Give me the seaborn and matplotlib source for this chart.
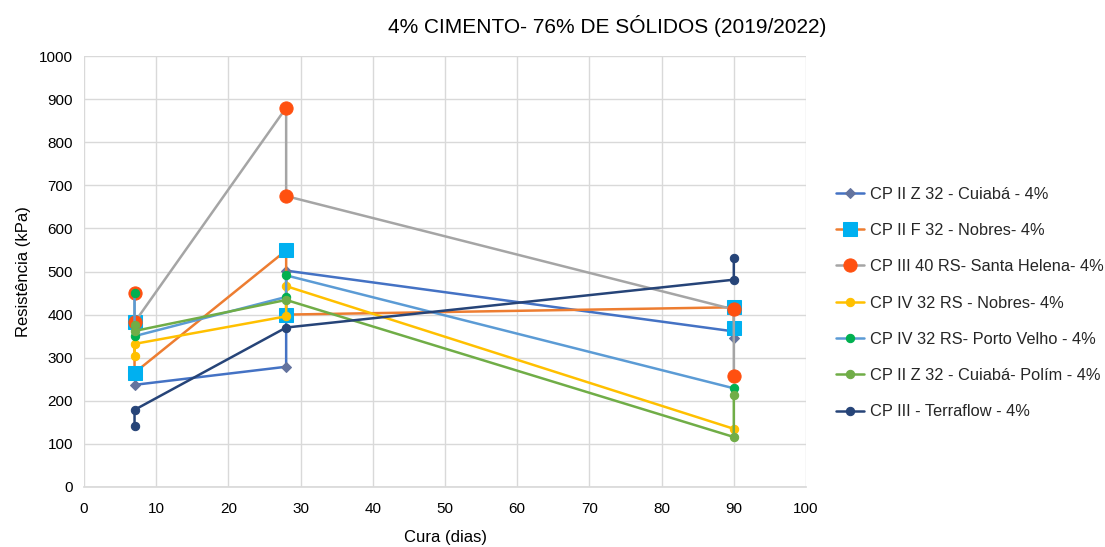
import matplotlib
matplotlib.use("Agg")
import matplotlib.pyplot as plt
import seaborn as sns
import pandas as pd

# Curing ages (days) and strength readings (kPa) for each cement mix, in test order
series_names = [
    "CP II Z 32 - Cuiabá - 4%",
    "CP II F 32 - Nobres- 4%",
    "CP III 40 RS- Santa Helena- 4%",
    "CP IV 32 RS - Nobres- 4%",
    "CP IV 32 RS- Porto Velho - 4%",
    "CP II Z 32 - Cuiabá- Polím - 4%",
    "CP III - Terraflow - 4%",
]

cp2z_dias = [7, 28, 28, 90, 90]
cp2z_kpa = [237, 279, 502, 361, 346]

cp2f_dias = [7, 7, 28, 28, 90, 90]
cp2f_kpa = [383, 265, 549, 400, 417, 368]

cp3_dias = [7, 7, 28, 28, 90, 90]
cp3_kpa = [449, 382, 880, 675, 412, 257]

cp4_nobres_dias = [7, 7, 28, 28, 90]
cp4_nobres_kpa = [304, 332, 396, 466, 135]

cp4_pv_dias = [7, 7, 28, 28, 90]
cp4_pv_kpa = [449, 350, 441, 491, 229]

cp2z_polim_dias = [7, 7, 28, 90, 90]
cp2z_polim_kpa = [377, 362, 434, 116, 214]

terraflow_dias = [7, 7, 28, 90, 90]
terraflow_kpa = [141, 179, 370, 481, 531]

x_ticks = [0, 10, 20, 30, 40, 50, 60, 70, 80, 90, 100]
y_ticks = [0, 100, 200, 300, 400, 500, 600, 700, 800, 900, 1000]

all_dias = [cp2z_dias, cp2f_dias, cp3_dias, cp4_nobres_dias,
            cp4_pv_dias, cp2z_polim_dias, terraflow_dias]
all_kpa = [cp2z_kpa, cp2f_kpa, cp3_kpa, cp4_nobres_kpa,
           cp4_pv_kpa, cp2z_polim_kpa, terraflow_kpa]

# Line colour, marker shape, marker colour, marker size per series
line_colors = ["#4472C4", "#ED7D31", "#A5A5A5", "#FFC000", "#5B9BD5", "#70AD47", "#264478"]
markers = ["D", "s", "o", "o", "o", "o", "o"]
marker_colors = ["#63739E", "#00B0F0", "#FF5010", "#FFC000", "#00B050", "#70AD47", "#264478"]
marker_sizes = [5, 9.5, 9.5, 6, 6, 6, 6]

sns.set_theme(style="whitegrid")
plt.rcParams["font.family"] = ["Liberation Sans", "DejaVu Sans"]

fig = plt.figure(figsize=(11.05, 5.47), dpi=100)
ax = fig.add_axes([84 / 1105, 1 - 487 / 547, (806 - 84) / 1105, (487 - 56) / 547])

for name, dias, kpa, lc, mk, mc, ms in zip(series_names, all_dias, all_kpa,
                                           line_colors, markers, marker_colors, marker_sizes):
    df = pd.DataFrame({"Cura (dias)": dias, "Resistência (kPa)": kpa})
    sns.lineplot(data=df, x="Cura (dias)", y="Resistência (kPa)", ax=ax,
                 sort=False, estimator=None, color=lc, linewidth=1.8,
                 marker=mk, markersize=ms, markerfacecolor=mc,
                 markeredgecolor=mc, label=name)

ax.set_xlim(0, 100)
ax.set_ylim(0, 1000)
ax.set_xticks(x_ticks)
ax.set_yticks(y_ticks)
ax.tick_params(axis="both", labelsize=11, colors="#000000", length=0)
ax.tick_params(axis="x", pad=11)
ax.tick_params(axis="y", pad=8)
ax.grid(True, color="#D9D9D9", linewidth=1)
for side in ["top", "right", "left"]:
    ax.spines[side].set_visible(False)
ax.spines["bottom"].set_visible(True)
ax.spines["bottom"].set_color("#D9D9D9")
ax.set_facecolor("white")

ax.set_xlabel("Cura (dias)", fontsize=12, color="#000000", labelpad=10)
ax.set_ylabel("Resistência (kPa)", fontsize=12, color="#000000", labelpad=6)

fig.text(607 / 1105, 1 - 26 / 547, "4% CIMENTO- 76% DE SÓLIDOS (2019/2022)",
         ha="center", va="center", fontsize=15, color="#000000")

ax.legend(loc="center left", bbox_to_anchor=(836 / 1105, 1 - 303 / 547),
          bbox_transform=fig.transFigure, frameon=False, fontsize=11.8,
          labelspacing=1.3, handlelength=1.7, handletextpad=0.35,
          borderpad=0, borderaxespad=0)

fig.savefig("out.png", dpi=100, facecolor="white")
